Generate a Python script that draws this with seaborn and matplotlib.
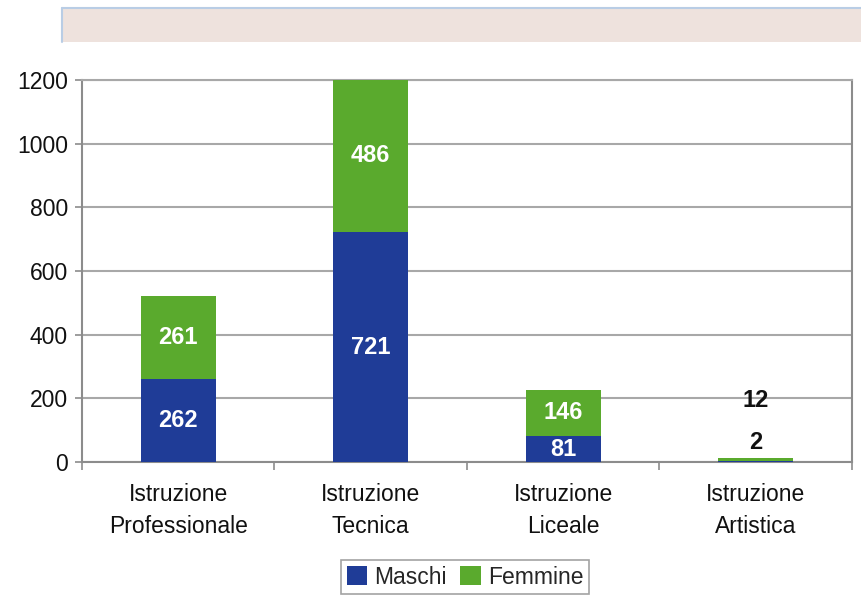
import pandas as pd
import matplotlib
matplotlib.use("Agg")
import matplotlib.pyplot as plt
import seaborn as sns
from matplotlib.patches import Rectangle, Patch
from matplotlib.lines import Line2D

# Data
categories = ["Istruzione\nProfessionale", "Istruzione\nTecnica",
              "Istruzione\nLiceale", "Istruzione\nArtistica"]
maschi = [262, 721, 81, 2]
femmine = [261, 486, 146, 12]

BLUE = "#1F3C97"
GREEN = "#5AAA2D"
GRID = "#A8A8A8"

sns.set_theme(style="white")
plt.rcParams["font.family"] = ["Liberation Sans", "DejaVu Sans"]

df = pd.DataFrame({"Categoria": categories, "Maschi": maschi, "Femmine": femmine})
df["Totale"] = df["Maschi"] + df["Femmine"]

fig = plt.figure(figsize=(8.61, 5.98), dpi=100)
ax = fig.add_axes([0.0952, 0.2274, 0.8943, 0.6388])

# header banner
fig.patches.append(Rectangle((0.072, 0.930), 0.93, 0.057, transform=fig.transFigure,
                             facecolor="#EEE2DD", edgecolor="none", zorder=0))
fig.add_artist(Line2D([0.072, 1.0], [0.987, 0.987], transform=fig.transFigure,
                      color="#B9CDE5", lw=1.5))
fig.add_artist(Line2D([0.072, 0.072], [0.930, 0.987], transform=fig.transFigure,
                      color="#B9CDE5", lw=1.5))

# stacked bars: total first (green), then maschi on top (blue)
sns.barplot(data=df, x="Categoria", y="Totale", color=GREEN, width=0.39,
            saturation=1, linewidth=0, ax=ax, zorder=3)
sns.barplot(data=df, x="Categoria", y="Maschi", color=BLUE, width=0.39,
            saturation=1, linewidth=0, ax=ax, zorder=3)

ax.set_ylim(0, 1200)
ax.set_xlim(-0.5, 3.5)
ax.set_yticks(range(0, 1201, 200))
ax.yaxis.grid(True, color=GRID, lw=1.5, zorder=0)
ax.set_axisbelow(True)
ax.set_xlabel("")
ax.set_ylabel("")

for side in ["left", "bottom", "right", "top"]:
    ax.spines[side].set_visible(True)
    ax.spines[side].set_color("#8C8C8C")
    ax.spines[side].set_linewidth(1.5)
ax.spines["top"].set_color(GRID)

ax.tick_params(axis="y", which="major", left=True, length=5, width=1.2,
               color="#8C8C8C", labelsize=16.5, pad=5, labelcolor="#111111")
ax.tick_params(axis="x", which="major", bottom=False, labelsize=16.5, pad=9,
               labelcolor="#111111")
ax.set_xticks([-0.5, 0.5, 1.5, 2.5, 3.5], minor=True)
ax.tick_params(axis="x", which="minor", bottom=True, length=6, width=1.2,
               color="#8C8C8C")
for lbl in ax.get_xticklabels():
    lbl.set_linespacing(1.5)

# value labels
for i, (m, f) in enumerate(zip(maschi, femmine)):
    if m + f > 60:
        ax.text(i, m / 2, str(m), ha="center", va="center", color="white",
                fontsize=17, fontweight="bold", zorder=5)
        ax.text(i, m + f / 2, str(f), ha="center", va="center", color="white",
                fontsize=17, fontweight="bold", zorder=5)
    else:
        ax.annotate(str(m), xy=(i, m + f), xytext=(0, 11), textcoords="offset points",
                    ha="center", va="center", fontsize=17, fontweight="bold",
                    color="#111111", zorder=5)
        ax.annotate(str(f), xy=(i, m + f), xytext=(0, 41), textcoords="offset points",
                    ha="center", va="center", fontsize=17, fontweight="bold",
                    color="#111111", zorder=5)

handles = [Patch(facecolor=BLUE, edgecolor="none", label="Maschi"),
           Patch(facecolor=GREEN, edgecolor="none", label="Femmine")]
leg = fig.legend(handles=handles, loc="center", bbox_to_anchor=(0.540, 0.035),
                 ncol=2, frameon=True, fancybox=False, fontsize=16.5,
                 handlelength=0.9, handleheight=0.9, handletextpad=0.3,
                 columnspacing=0.6, borderpad=0.25)
leg.get_frame().set_edgecolor("#8C8C8C")
leg.get_frame().set_linewidth(1.2)

fig.savefig("out.png", dpi=100)
